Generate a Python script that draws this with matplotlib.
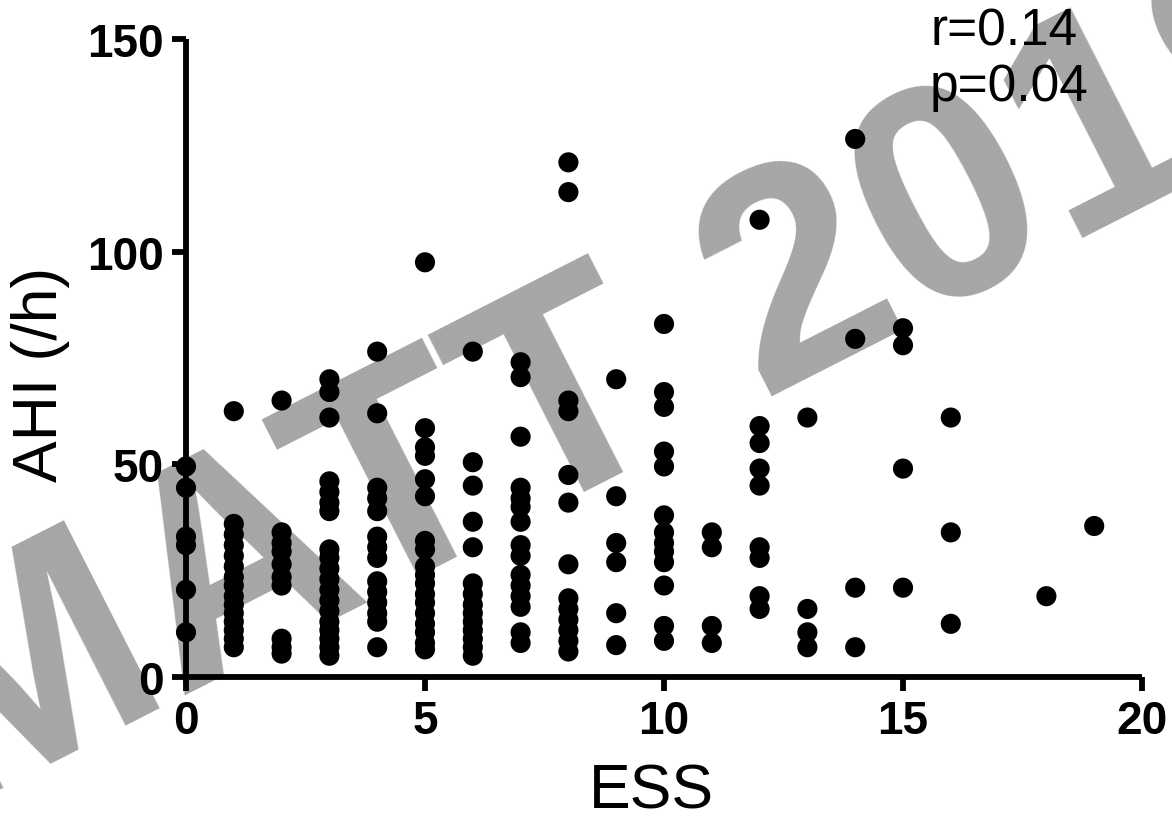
import numpy as np
import matplotlib
matplotlib.use("Agg")
import matplotlib.pyplot as plt

plt.rcParams['font.family'] = ['Liberation Sans', 'DejaVu Sans']

# AHI values (/h) observed at each ESS score
ahi_ess0 = [49.5, 44.5, 33, 31, 20.5, 10.5]
ahi_ess1 = [62.5, 36, 33.5, 31, 28.5, 26, 23.5, 21.5, 19, 17, 15, 13, 11, 9, 7]
ahi_ess2 = [65, 34, 31.5, 29.5, 26.5, 23.5, 21.5, 9, 7, 5.5]
ahi_ess3 = [70, 67, 61, 46, 43.5, 41, 39, 30, 28, 25.5, 23, 20.5, 18, 15.5, 13, 11, 9, 7, 5]
ahi_ess4 = [76.5, 62, 44.5, 42, 39, 33, 30.5, 28, 22.5, 20, 17.5, 15, 13, 7]
ahi_ess5 = [97.5, 58.5, 54, 52, 46.5, 42.5, 32, 30, 26, 24, 22, 19.5, 17.5, 15, 12.5, 10.5, 8, 6.5]
ahi_ess6 = [76.5, 50.5, 45, 36.5, 30.5, 22, 19.5, 17, 15, 13, 11, 9, 7, 5]
ahi_ess7 = [74, 70.5, 56.5, 44.5, 42, 40, 36.5, 31, 28.5, 24, 21.5, 19, 16.5, 10.5, 8]
ahi_ess8 = [121, 114, 65, 62.5, 47.5, 41, 26.5, 18.5, 16, 13.5, 11, 8.5, 6]
ahi_ess9 = [70, 42.5, 31.5, 27, 15, 7.5]
ahi_ess10 = [83, 67, 63.5, 53, 49.5, 38, 34, 31.5, 29.5, 27, 21.5, 12, 8.5]
ahi_ess11 = [34, 30.5, 12, 8]
ahi_ess12 = [107.5, 59, 55, 49, 45, 30.5, 28, 19, 16]
ahi_ess13 = [61, 16, 10.5, 7]
ahi_ess14 = [126.5, 79.5, 21, 7]
ahi_ess15 = [82, 78, 49, 21]
ahi_ess16 = [61, 34, 12.5]
ahi_ess18 = [19]
ahi_ess19 = [35.5]

ess_scores = [0, 1, 2, 3, 4, 5, 6, 7, 8, 9, 10, 11, 12, 13, 14, 15, 16, 18, 19]
ahi_groups = [ahi_ess0, ahi_ess1, ahi_ess2, ahi_ess3, ahi_ess4, ahi_ess5, ahi_ess6,
              ahi_ess7, ahi_ess8, ahi_ess9, ahi_ess10, ahi_ess11, ahi_ess12, ahi_ess13,
              ahi_ess14, ahi_ess15, ahi_ess16, ahi_ess18, ahi_ess19]

x_ticks = [0, 5, 10, 15, 20]
y_ticks = [0, 50, 100, 150]
stats_text = "r=0.14\np=0.04"
watermark = "MATT 2019"

W, H = 1172, 829
fig = plt.figure(figsize=(W / 100, H / 100), dpi=100)
fig.patch.set_facecolor('white')

# watermark behind everything (baseline starts just off the lower-left corner)
fig.text(-48 / W, 1 - 814 / H, watermark, fontsize=220, fontweight='bold', color='#a6a6a6',
         rotation=27, rotation_mode='anchor', ha='left', va='baseline', zorder=-5,
         family=['Liberation Sans', 'DejaVu Sans'])

ax = fig.add_axes([186 / W, 1 - 678 / H, (1142 - 186) / W, (678 - 40) / H])
ax.set_zorder(2)
ax.patch.set_alpha(0)

xs = np.concatenate([[e] * len(g) for e, g in zip(ess_scores, ahi_groups)])
ys = np.concatenate(ahi_groups)
ax.scatter(xs, ys, s=210, c='black', edgecolors='none', clip_on=False, zorder=5)

ax.set_xlim(0, 20)
ax.set_ylim(0, 150)
ax.set_xticks(x_ticks)
ax.set_yticks(y_ticks)
ax.set_xticklabels([str(t) for t in x_ticks], fontsize=33, fontweight='bold')
ax.set_yticklabels([str(t) for t in y_ticks], fontsize=33, fontweight='bold')
for s in ['top', 'right']:
    ax.spines[s].set_visible(False)
for s in ['left', 'bottom']:
    ax.spines[s].set_linewidth(4.2)
    ax.spines[s].set_capstyle('butt')
ax.tick_params(axis='both', width=4.2, length=10, direction='out', pad=6)

fig.text(40 / W, 1 - 374 / H, "AHI (/h)", fontsize=45, rotation=90, ha='center', va='center', zorder=3)
fig.text(651 / W, 1 - 792 / H, "ESS", fontsize=45, ha='center', va='center', zorder=3)
fig.text(930 / W, 1 - 8 / H, stats_text, fontsize=37, ha='left', va='top', linespacing=1.15, zorder=3)

fig.savefig("out.png", dpi=100)
